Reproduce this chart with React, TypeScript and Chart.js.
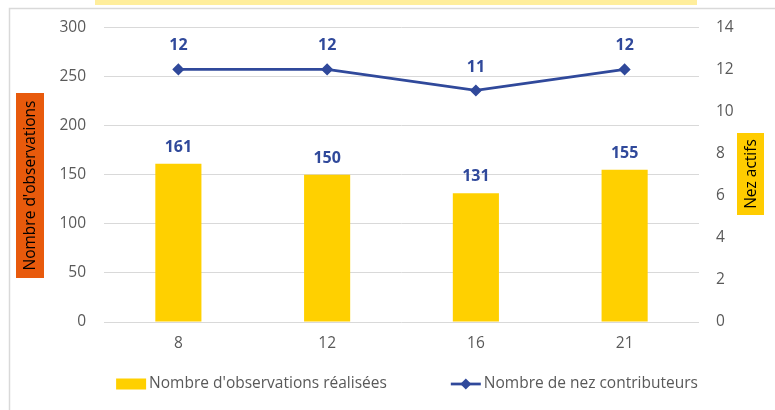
import React, { useEffect, useRef } from "react";
import { Chart, registerables } from "chart.js";

Chart.register(...registerables);

const categories = ["8", "12", "16", "21"];
const observations = [161, 150, 131, 155];
const contributors = [12, 12, 11, 12];
const leftMax = 300;
const leftStep = 50;
const rightMax = 14;
const rightStep = 2;
const barLabel = "Nombre d'observations réalisées";
const lineLabel = "Nombre de nez contributeurs";
const leftTitle = "Nombre d'observations";
const rightTitle = "Nez actifs";

const FONT = "'Open Sans', 'Noto Sans', sans-serif";
const BAR_COLOR = "#FFD000";
const LINE_COLOR = "#30499B";
const GRID = "#D9D9D9";
const TEXT = "#595959";

const decorPlugin = {
  id: "decor",
  beforeDraw(chart: any) {
    const ctx = chart.ctx;
    ctx.save();
    ctx.fillStyle = "#FFFFFF";
    ctx.fillRect(0, 0, chart.width, chart.height);
    ctx.strokeStyle = GRID;
    ctx.lineWidth = 1.5;
    ctx.beginPath();
    ctx.moveTo(9.5, chart.height);
    ctx.lineTo(9.5, 8.5);
    ctx.lineTo(chart.width, 8.5);
    ctx.stroke();
    ctx.fillStyle = "#FFEE9C";
    ctx.fillRect(95, 0, 602, 5);
    const drawTitle = (cx: number, cy: number, w: number, h: number, bg: string, text: string) => {
      ctx.fillStyle = bg;
      ctx.fillRect(cx - w / 2, cy - h / 2, w, h);
      ctx.save();
      ctx.translate(cx, cy);
      ctx.rotate(-Math.PI / 2);
      ctx.fillStyle = "#000000";
      ctx.font = `15.5px ${FONT}`;
      ctx.textAlign = "center";
      ctx.textBaseline = "middle";
      ctx.fillText(text, 0, 1);
      ctx.restore();
    };
    drawTitle(30, 185.5, 28, 185, "#E85A0C", leftTitle);
    drawTitle(750.5, 174, 27, 82, "#FFCC00", rightTitle);
    ctx.restore();
  },
  afterDatasetsDraw(chart: any) {
    const ctx = chart.ctx;
    ctx.save();
    ctx.fillStyle = LINE_COLOR;
    ctx.font = `bold 16px ${FONT}`;
    ctx.textAlign = "center";
    ctx.textBaseline = "middle";
    chart.data.datasets.forEach((ds: any, i: number) => {
      const meta = chart.getDatasetMeta(i);
      const off = ds.type === "line" ? 23.5 : 16.5;
      meta.data.forEach((el: any, j: number) => {
        ctx.fillText(String(ds.data[j]), el.x, el.y - off);
      });
    });
    ctx.restore();
  },
  afterDraw(chart: any) {
    const ctx = chart.ctx;
    ctx.save();
    ctx.font = `15.5px ${FONT}`;
    ctx.textBaseline = "middle";
    ctx.textAlign = "left";
    const w1 = ctx.measureText(barLabel).width;
    const w2 = ctx.measureText(lineLabel).width;
    const mw = 30, gap = 3, between = 64;
    const total = mw + gap + w1 + between + mw + gap + w2;
    const y = 384;
    let x = 407 - total / 2;
    ctx.fillStyle = BAR_COLOR;
    ctx.fillRect(x, y - 5.5, mw, 11);
    ctx.fillStyle = TEXT;
    ctx.fillText(barLabel, x + mw + gap, y);
    x += mw + gap + w1 + between;
    ctx.strokeStyle = LINE_COLOR;
    ctx.lineWidth = 2.75;
    ctx.beginPath();
    ctx.moveTo(x, y);
    ctx.lineTo(x + mw, y);
    ctx.stroke();
    ctx.fillStyle = LINE_COLOR;
    const cx = x + mw / 2, r = 5.5;
    ctx.beginPath();
    ctx.moveTo(cx - r, y);
    ctx.lineTo(cx, y - r);
    ctx.lineTo(cx + r, y);
    ctx.lineTo(cx, y + r);
    ctx.closePath();
    ctx.fill();
    ctx.fillStyle = TEXT;
    ctx.fillText(lineLabel, x + mw + gap, y);
    ctx.restore();
  },
};

export default function App() {
  const ref = useRef<HTMLCanvasElement | null>(null);
  useEffect(() => {
    if (!ref.current) return;
    const chart = new Chart(ref.current, {
      data: {
        labels: categories,
        datasets: [
          {
            type: "line",
            label: lineLabel,
            data: contributors,
            yAxisID: "y1",
            borderColor: LINE_COLOR,
            backgroundColor: LINE_COLOR,
            borderWidth: 2.75,
            pointStyle: "rectRot",
            pointRadius: 5,
            pointBorderWidth: 1.5,
            pointBackgroundColor: LINE_COLOR,
            pointBorderColor: LINE_COLOR,
            tension: 0,
            order: 1,
          },
          {
            type: "bar",
            label: barLabel,
            data: observations,
            yAxisID: "y",
            backgroundColor: BAR_COLOR,
            borderWidth: 0,
            categoryPercentage: 1,
            barPercentage: 0.31,
            order: 2,
          },
        ],
      } as any,
      options: {
        responsive: false,
        animation: false,
        events: [],
        layout: { padding: { top: 26, left: 0, right: 0, bottom: 0 } },
        plugins: {
          legend: { display: false },
          tooltip: { enabled: false },
          title: { display: false },
        },
        scales: {
          x: {
            grid: { display: false, drawTicks: false },
            border: { display: false },
            ticks: { color: TEXT, font: { family: FONT, size: 15.5 }, padding: 12 },
            afterFit: (s: any) => { s.height = 88; },
          },
          y: {
            position: "left",
            min: 0,
            max: leftMax,
            ticks: { stepSize: leftStep, color: TEXT, font: { family: FONT, size: 15.5 }, padding: 18 },
            grid: { color: GRID, lineWidth: 1, drawTicks: false },
            border: { display: false },
            afterFit: (s: any) => { s.width = 104; },
          },
          y1: {
            position: "right",
            min: 0,
            max: rightMax,
            ticks: { stepSize: rightStep, color: TEXT, font: { family: FONT, size: 15.5 }, padding: 17 },
            grid: { display: false, drawTicks: false },
            border: { display: false },
            afterFit: (s: any) => { s.width = 76; },
          },
        },
      } as any,
      plugins: [decorPlugin],
    });
    return () => chart.destroy();
  }, []);
  return (
    <div style={{ position: "absolute", left: 0, top: 0, width: 775, height: 410 }}>
      <canvas ref={ref} width={775} height={410} style={{ display: "block" }} />
    </div>
  );
}
